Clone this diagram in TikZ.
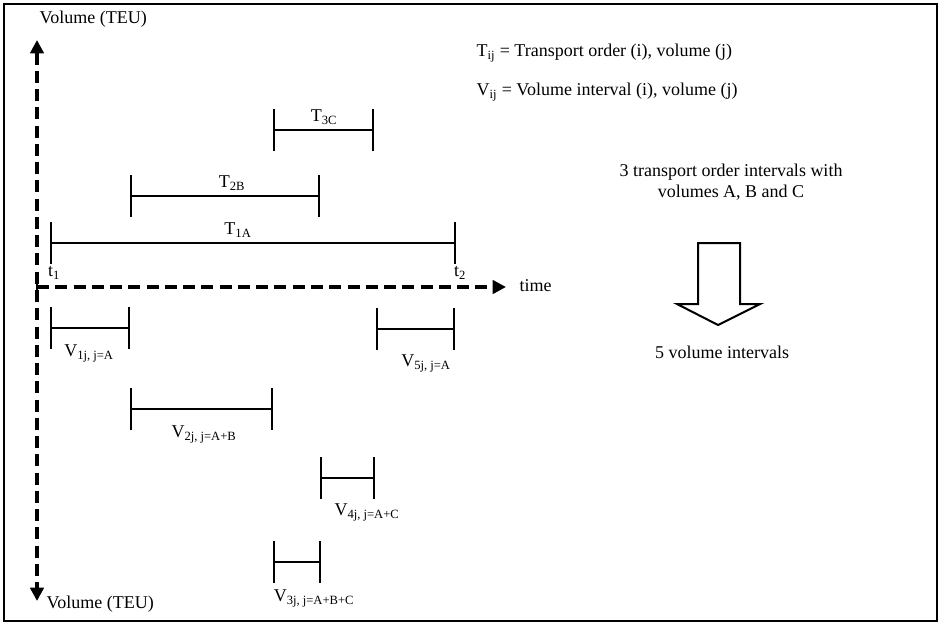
\documentclass[tikz,border=0pt]{standalone}
\usepackage{fontspec}
\setmainfont{Liberation Serif}
\usetikzlibrary{arrows.meta}
\begin{document}
\begin{tikzpicture}[x=0.75pt,y=-0.75pt,
  font=\fontsize{13.5}{16}\selectfont,
  frame/.style={line width=2pt},
  axis/.style={line width=3pt, dash pattern=on 9pt off 4.7pt,
    {Triangle[length=10pt,width=10pt]}-{Triangle[length=10pt,width=10pt]}},
  haxis/.style={line width=3pt, dash pattern=on 9pt off 4.7pt,
    -{Triangle[length=10pt,width=10pt]}},
  span/.style={line width=1.6pt, {Bar[width=31.5pt]}-{Bar[width=31.5pt]}},
  lbl/.style={inner sep=1pt},
  bigarrow/.style={line width=1.5pt, line join=miter}]
\useasboundingbox (0,0) rectangle (941,625);
\draw[frame] (4,4) rectangle (937,621);

% axes
\coordinate (vtop) at (37,40);
\coordinate (vbot) at (37,601);
\coordinate (orig) at (37,287);
\coordinate (tend) at (506,287);
\draw[axis] (vtop) -- (vbot);
\draw[haxis] (orig) -- (tend);
\draw[line width=2pt] (37,280) -- (37,294);
\node[lbl, anchor=west] (ytop) at (38,19) {Volume (TEU)};
\node[lbl, anchor=west] (ybot) at (45,604) {Volume (TEU)};
\node[lbl, anchor=west] (time) at (518,286) {time};
\node[lbl] (t1) at (54,273) {t\textsubscript{1}};
\node[lbl] (t2) at (460,273) {t\textsubscript{2}};

% transport order intervals
\coordinate (a1) at (50,243);  \coordinate (b1) at (456,243);
\coordinate (a2) at (130,196); \coordinate (b2) at (320,196);
\coordinate (a3) at (273,130); \coordinate (b3) at (374,130);
\draw[span] (a1) -- (b1);
\draw[span] (a2) -- (b2);
\draw[span] (a3) -- (b3);
\node[lbl] (T1) at (238,230) {T\textsubscript{1A}};
\node[lbl] (T2) at (232,183) {T\textsubscript{2B}};
\node[lbl] (T3) at (324,117) {T\textsubscript{3C}};

% volume intervals
\coordinate (c1) at (50,328);  \coordinate (d1) at (130,328);
\coordinate (c2) at (130,409); \coordinate (d2) at (273,409);
\coordinate (c3) at (273,562); \coordinate (d3) at (321,562);
\coordinate (c4) at (320,478); \coordinate (d4) at (375,478);
\coordinate (c5) at (376,329); \coordinate (d5) at (455,329);
\draw[span] (c1) -- (d1);
\draw[span] (c2) -- (d2);
\draw[span] (c3) -- (d3);
\draw[span] (c4) -- (d4);
\draw[span] (c5) -- (d5);
\node[lbl] (V1) at (89,353) {V\textsubscript{1j, j=A}};
\node[lbl] (V2) at (204,434) {V\textsubscript{2j, j=A+B}};
\node[lbl] (V3) at (314,598) {V\textsubscript{3j, j=A+B+C}};
\node[lbl] (V4) at (367,512) {V\textsubscript{4j, j=A+C}};
\node[lbl] (V5) at (426,363) {V\textsubscript{5j, j=A}};

% legend
\node[lbl, anchor=west] (legT) at (475,53) {T\textsubscript{ij} = Transport order (i), volume (j)};
\node[lbl, anchor=west] (legV) at (475,92) {V\textsubscript{ij} = Volume interval (i), volume (j)};

% summary
\node[lbl, align=center] (from) at (731,182) {3 transport order intervals with\\volumes A, B and C};
\node[lbl] (to) at (722,352) {5 volume intervals};
\draw[bigarrow] (698,243) -- (740,243) -- (740,304) -- (760,304) -- (718,325)
  -- (677,304) -- (698,304) -- cycle;
\end{tikzpicture}
\end{document}
